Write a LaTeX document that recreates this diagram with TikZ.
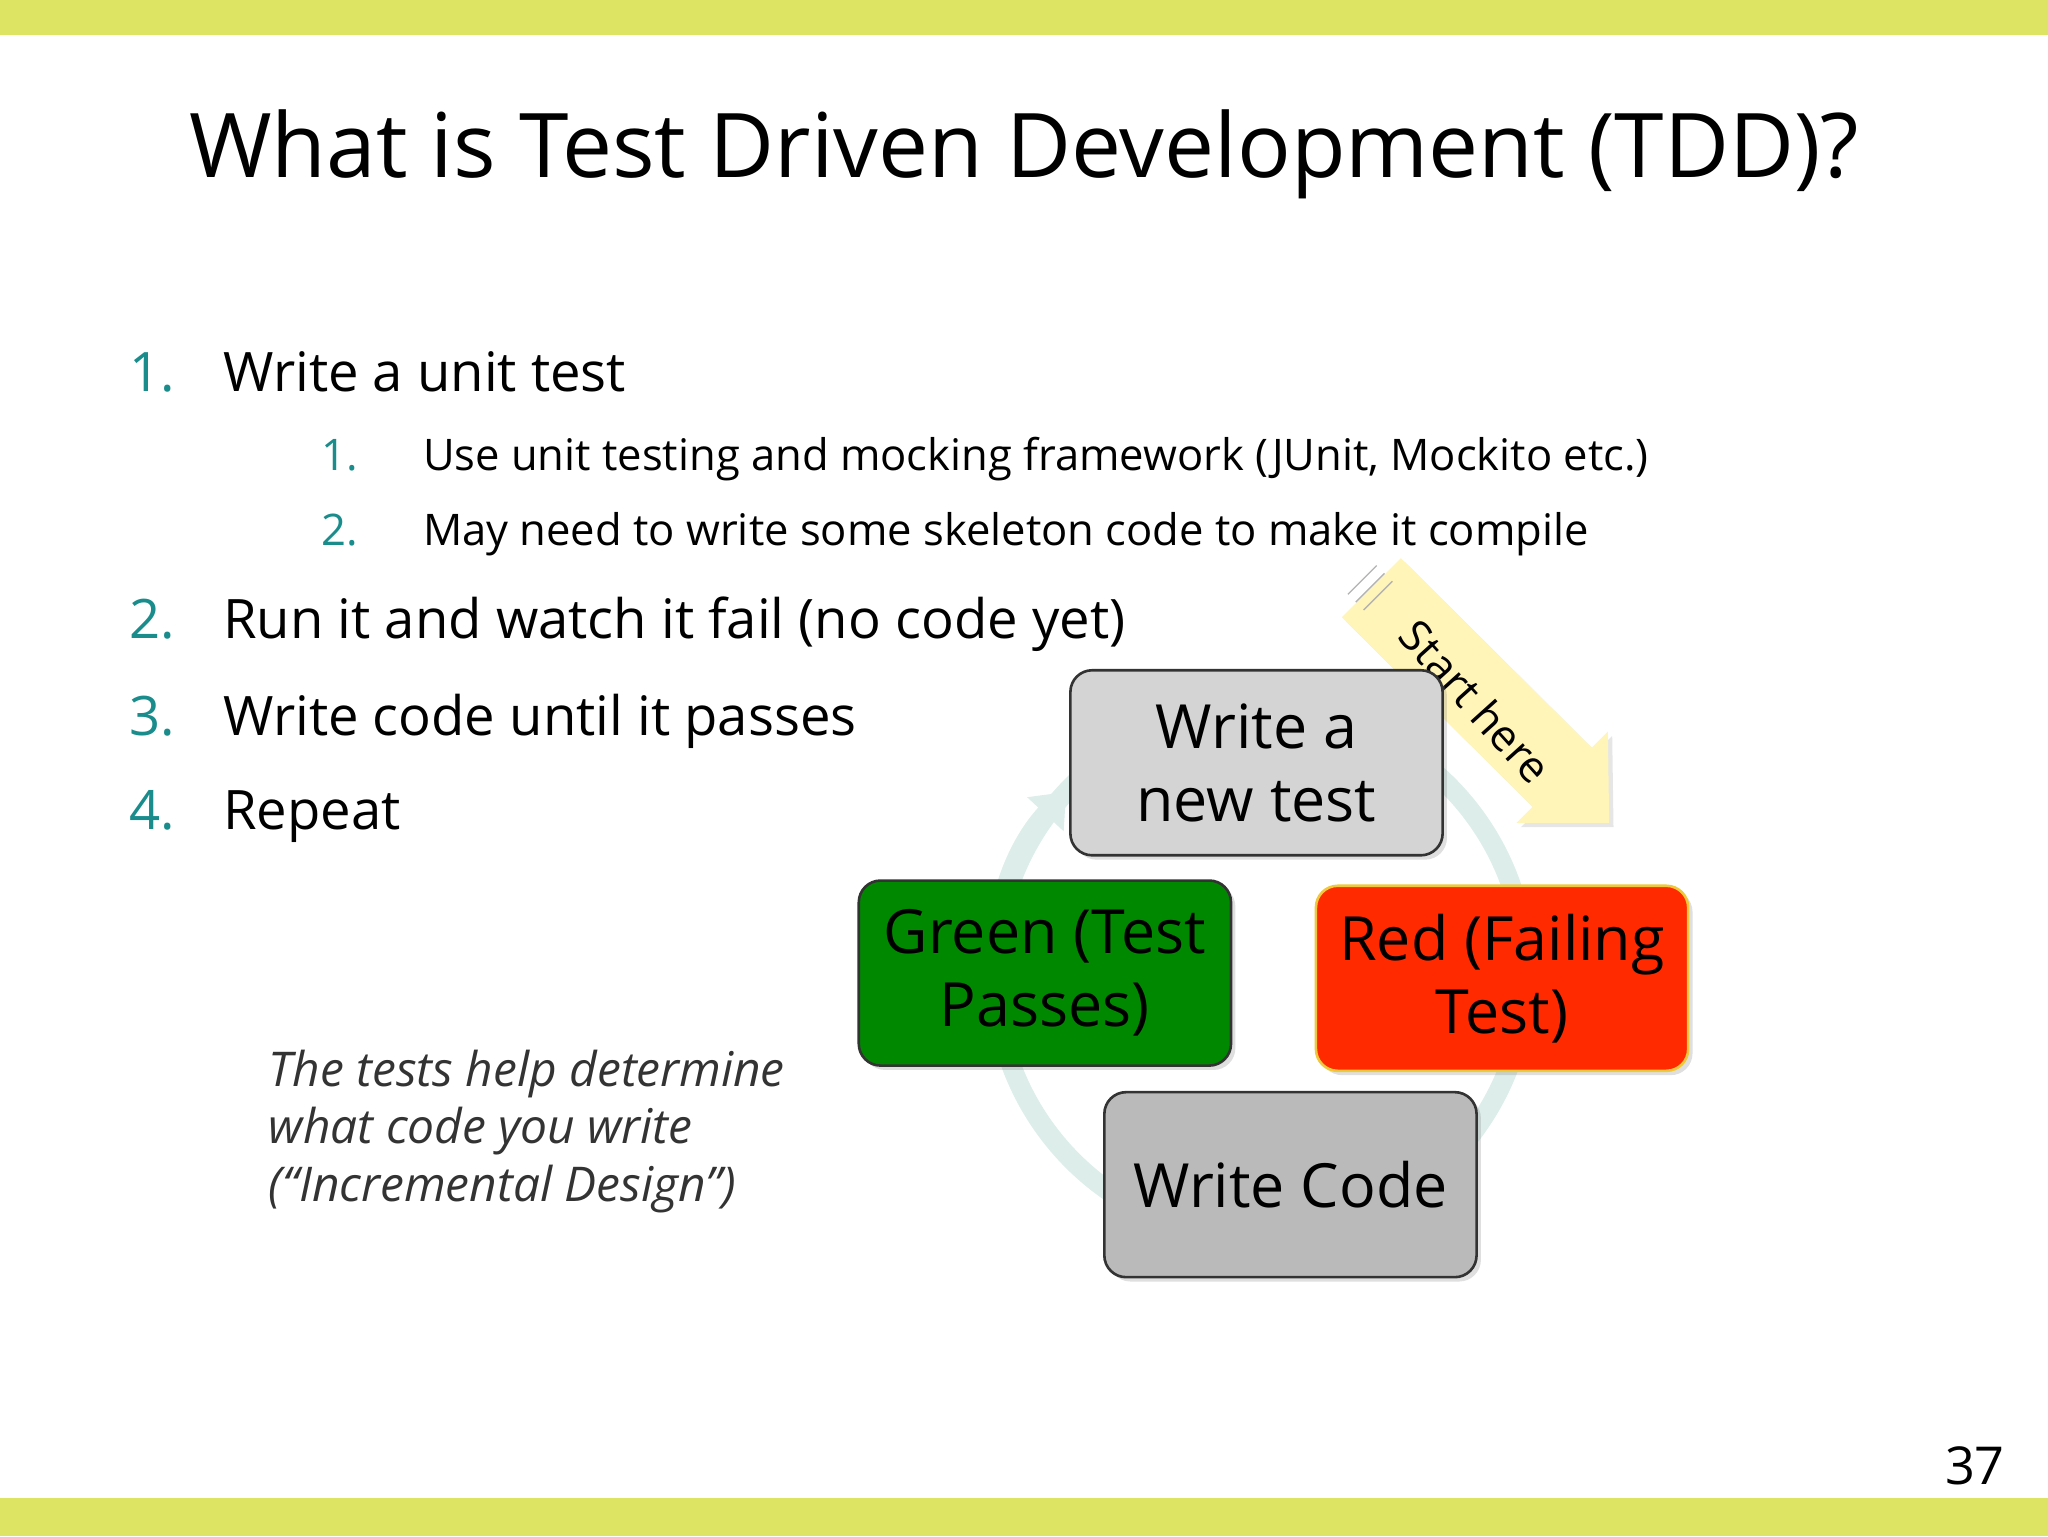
\documentclass[tikz,border=0pt]{standalone}
\usepackage{fontspec}
\setmainfont{Open Sans}
\usetikzlibrary{arrows.meta,shadows,calc}
\definecolor{lime}{HTML}{DDE464}
\definecolor{teal1}{HTML}{1A8C8C}
\definecolor{ring}{HTML}{DCEDEA}
\definecolor{ylw}{HTML}{FFF5B8}
\tikzset{
  fs/.style={font=\fontsize{#1pt}{\dimexpr#1pt*6/5\relax}\selectfont},
  box/.style={draw=black!80,line width=1.2pt,rounded corners=10pt,minimum width=171pt,minimum height=85pt,align=center,fs=28,inner sep=2pt,drop shadow={opacity=0.25,shadow xshift=2pt,shadow yshift=-2pt}},
  num/.style={anchor=base west,text=teal1},
  txt/.style={anchor=base west},
}
\begin{document}
\begin{tikzpicture}[x=0.6pt,y=-0.6pt]
\useasboundingbox (0,0) rectangle (1568,1176);
\fill[lime] (0,0) rectangle (1568,27);
\fill[lime] (0,1147) rectangle (1568,1176);
\node[fs=41] (title) at (784,118) {What is Test Driven Development (TDD)?};
\node[num,fs=25] (n1) at (93,300) {1.};
\node[txt,fs=25] (t1) at (165,300) {Write a unit test};
\node[num,fs=20] (n11) at (240,360) {1.};
\node[txt,fs=20] (t11) at (318,360) {Use unit testing and mocking framework (JUnit, Mockito etc.)};
\node[num,fs=20] (n12) at (240,418) {2.};
\node[txt,fs=20] (t12) at (318,418) {May need to write some skeleton code to make it compile};
\node[num,fs=25] (n2) at (93,489) {2.};
\node[txt,fs=25] (t2) at (165,489) {Run it and watch it fail (no code yet)};
\node[num,fs=25] (n3) at (93,563) {3.};
\node[txt,fs=25] (t3) at (165,563) {Write code until it passes};
\node[num,fs=25] (n4) at (93,635) {4.};
\node[txt,fs=25] (t4) at (165,635) {Repeat};
\node[anchor=north west,align=left,fs=22,text=black!80] (note) at (200,798) {\itshape The tests help determine\\\itshape what code you write\\\itshape (“Incremental Design”)};
% ring
\coordinate (c) at (965,745);
\draw[ring,line width=9pt] (c) circle[radius=122pt];
\draw[ring,line width=9pt,-{Triangle[length=14pt,width=22pt]}] ($(c)+(200:122pt)$) arc[start angle=200,end angle=137,radius=122pt];
% start here arrow
\fill[ylw,drop shadow={opacity=0.2,shadow xshift=2pt,shadow yshift=-2pt}] (1072.6,427.4) -- (1218.6,572.4) -- (1231,560) -- (1232,630) -- (1161,630) -- (1173.4,617.6) -- (1027.4,472.6) -- cycle;
\draw[black!30,line width=0.6pt] (1060,439) -- (1038,461) (1066,445) -- (1044,467) (1054,433) -- (1032,455);
\node[fs=20,rotate=-48] (start) at (1130,537) {Start here};
% boxes
\node[box,fill=black!17] (wt) at (962,584) {Write a\\new test};
\node[box,fill={rgb,255:red,0;green,136;blue,0}] (green) at (800,745) {Green (Test\\Passes)};
\node[box,fill={rgb,255:red,255;green,42;blue,0},draw={rgb,255:red,240;green,200;blue,60}] (red) at (1150,749) {Red (Failing\\Test)};
\node[box,fill=black!27] (wc) at (988,907) {Write Code};
\node[fs=24] (pg) at (1512,1122) {37};
\end{tikzpicture}
\end{document}
